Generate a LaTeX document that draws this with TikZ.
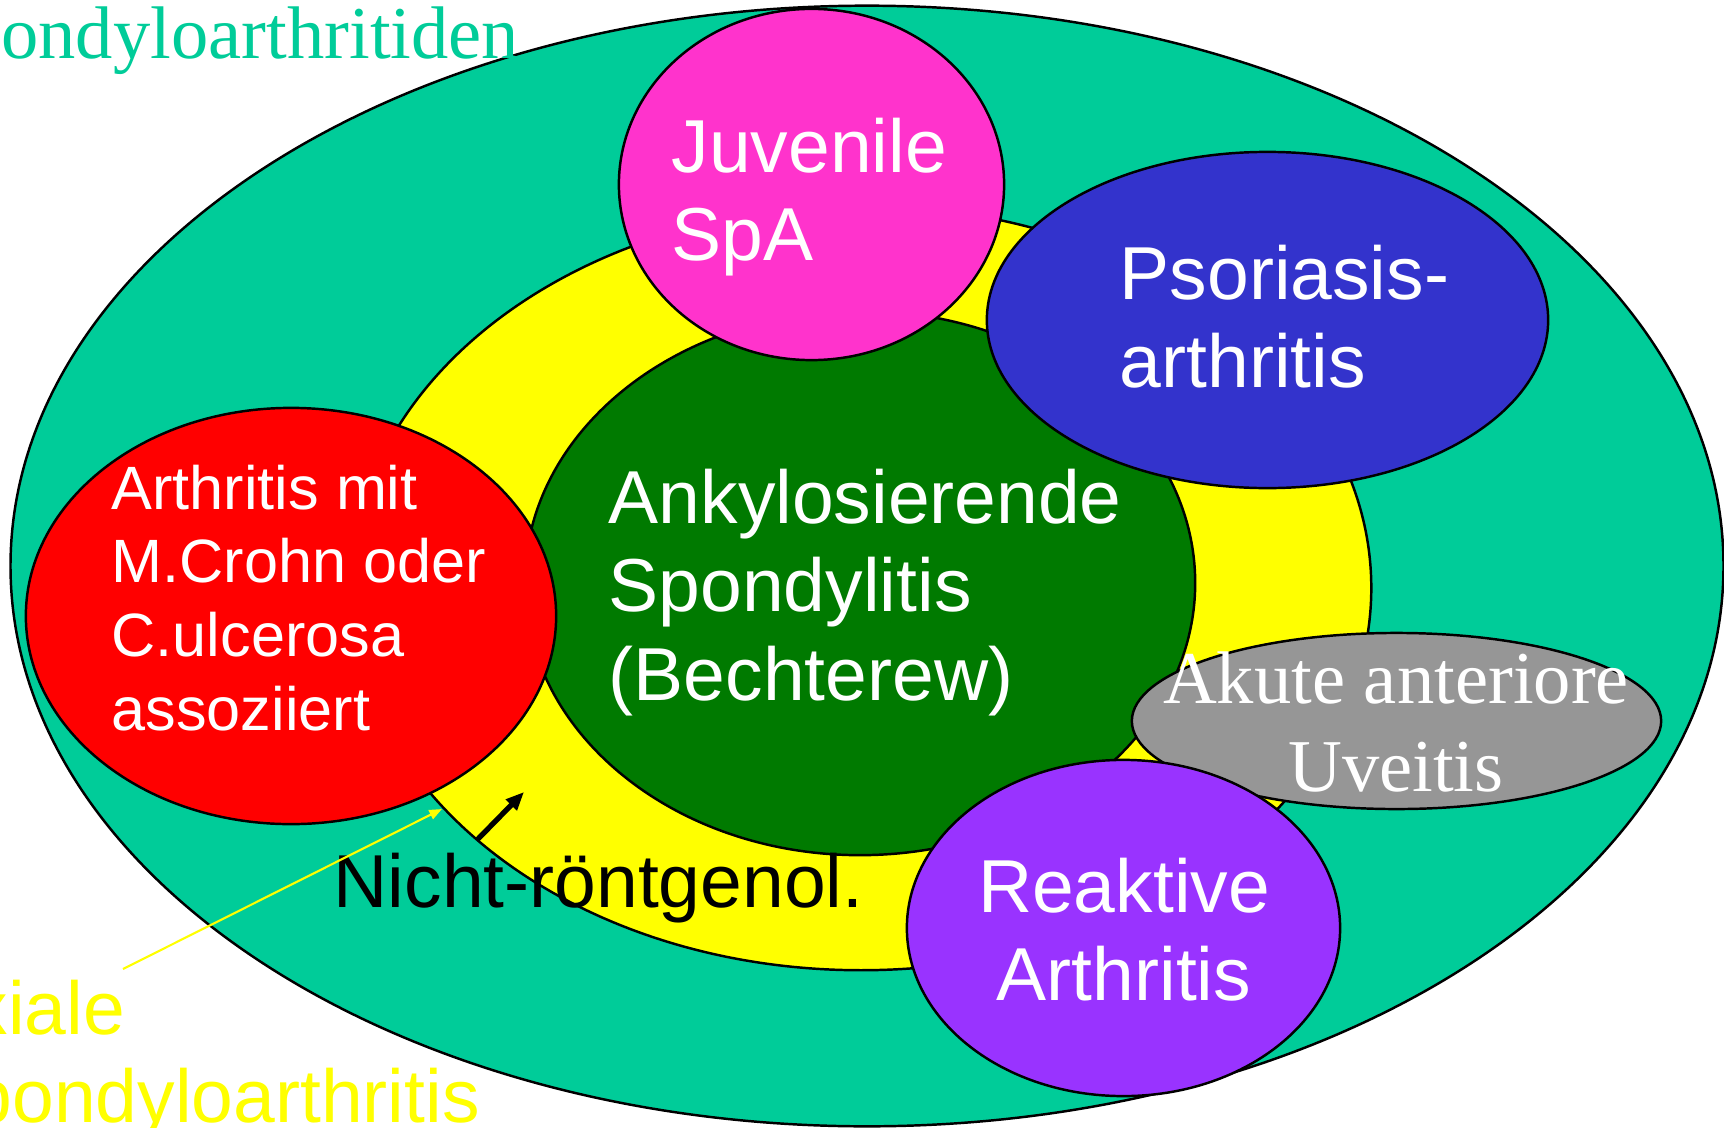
\documentclass[tikz,border=0pt]{standalone}
\usepackage{fontspec}
\setmainfont{Liberation Serif}
\newfontfamily\arialfont{Liberation Sans}
\usetikzlibrary{arrows.meta}
\definecolor{tealc}{HTML}{00CC99}
\definecolor{yellowc}{HTML}{FFFF00}
\definecolor{greenc}{HTML}{007A00}
\definecolor{pinkc}{HTML}{FF33CC}
\definecolor{bluec}{HTML}{3333CC}
\definecolor{redc}{HTML}{FF0000}
\definecolor{grayc}{HTML}{969696}
\definecolor{purplec}{HTML}{9933FF}
\tikzset{
  outl/.style={draw=black, line width=0.7pt},
  bigsans/.style={font=\arialfont\fontsize{21.34}{25.3}\selectfont, text=white, inner sep=0pt},
  smallsans/.style={font=\arialfont\fontsize{17.4}{20.97}\selectfont, text=white, inner sep=0pt},
  bigserif/.style={font=\fontsize{21.2}{25.3}\selectfont, inner sep=0pt},
}
\begin{document}
\begin{tikzpicture}[x=0.01cm, y=-0.01cm]
\useasboundingbox (0,0) rectangle (1724,1127);
\clip (0,0) rectangle (1724,1127);
% ellipses
\filldraw[fill=tealc, outl] (867,566) ellipse [x radius=8.56cm, y radius=5.60cm];
\filldraw[fill=yellowc, outl] (861,588) ellipse [x radius=5.10cm, y radius=3.82cm];
\filldraw[fill=greenc, outl] (860,583) ellipse [x radius=3.35cm, y radius=2.72cm];
\filldraw[fill=pinkc, outl] (811.5,184.5) ellipse [x radius=1.925cm, y radius=1.755cm];
\filldraw[fill=bluec, outl] (1267.5,320) ellipse [x radius=2.805cm, y radius=1.68cm];
\filldraw[fill=redc, outl] (291,616) ellipse [x radius=2.65cm, y radius=2.08cm];
\filldraw[fill=grayc, outl] (1396.5,721) ellipse [x radius=2.645cm, y radius=0.88cm];
\filldraw[fill=purplec, outl] (1123.5,928) ellipse [x radius=2.165cm, y radius=1.68cm];
% texts
\node[bigserif, text=tealc, anchor=base west] (title) at (-78,58) {Spondyloarthritiden};
\node[bigsans, anchor=base west] (juv) at (671,172) {\begin{tabular}[t]{@{}l@{}}Juvenile\\SpA\end{tabular}};
\node[bigsans, anchor=base west] (pso) at (1119,299) {\begin{tabular}[t]{@{}l@{}}Psoriasis-\\arthritis\end{tabular}};
\node[bigsans, anchor=base west] (ank) at (608,523) {\begin{tabular}[t]{@{}l@{}}Ankylosierende\\Spondylitis\\(Bechterew)\end{tabular}};
\node[smallsans, anchor=base west] (crohn) at (111,509) {\begin{tabular}[t]{@{}l@{}}Arthritis mit\\M.Crohn oder\\C.ulcerosa\\assoziiert\end{tabular}};
\node[bigsans, anchor=base] (reak) at (1124,912) {\begin{tabular}[t]{@{}c@{}}Reaktive\\Arthritis\end{tabular}};
\node[bigserif, text=white, anchor=base] (uve) at (1396,703) {\begin{tabular}[t]{@{}c@{}}Akute anteriore\\Uveitis\end{tabular}};
\node[bigsans, text=black, anchor=base west] (nicht) at (333,907) {Nicht-röntgenol.};
\node[bigsans, text=yellowc, anchor=base west] (axial) at (-80,1034) {\begin{tabular}[t]{@{}l@{}}Axiale\\Spondyloarthritis\end{tabular}};
% connectors
\coordinate (ylwS) at (123,969);
\coordinate (ylwE) at (442,809);
\coordinate (blkS) at (477,840);
\coordinate (blkE) at (524,792);
\draw[yellowc, line width=0.6pt, -{Triangle[length=3.6pt, width=2.8pt]}] (ylwS) -- (ylwE);
\draw[black, line width=1.5pt, -{Triangle[length=5.2pt, width=4.2pt]}] (blkS) -- (blkE);
\end{tikzpicture}
\end{document}
